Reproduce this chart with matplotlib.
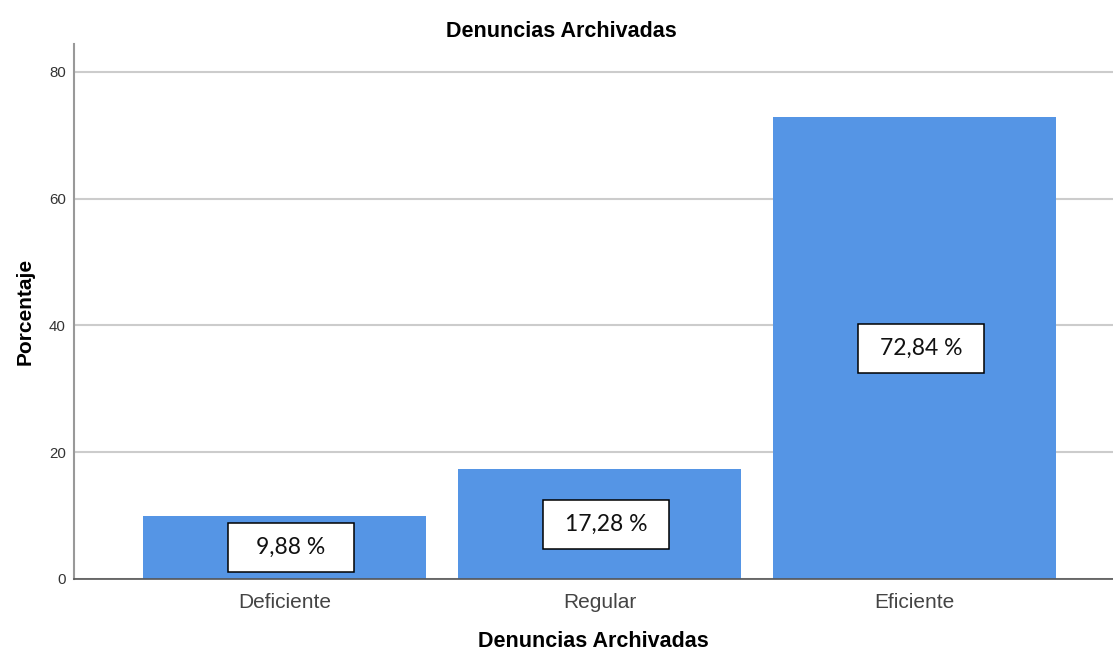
import matplotlib.pyplot as plt
from matplotlib.patches import Rectangle

categorias = ["Deficiente", "Regular", "Eficiente"]
porcentajes = [9.88, 17.28, 72.84]
etiquetas = ["9,88 %", "17,28 %", "72,84 %"]
yticks = [0, 20, 40, 60, 80]

plt.rcParams["font.family"] = ["Liberation Sans", "DejaVu Sans"]

fig = plt.figure(figsize=(11.13, 6.54), dpi=100)
ax = fig.add_axes([0.0665, 0.1147, 0.9335, 0.818])

x = list(range(len(categorias)))
ax.bar(x, porcentajes, width=0.9, color="#5595e5", zorder=2)

# cajas con el porcentaje de cada barra
for i, (v, txt) in enumerate(zip(porcentajes, etiquetas)):
    cx, cy = i + 0.02, v / 2
    ax.add_patch(Rectangle((cx - 0.2, cy - 3.86), 0.4, 7.72,
                           facecolor="white", edgecolor="black", lw=1.1, zorder=3))
    ax.text(cx, cy, txt, ha="center", va="center", fontsize=16.5,
            family=["Lato", "DejaVu Sans"], color="#111111", zorder=4)

ax.set_xlim(-0.668, 2.63)
ax.set_ylim(0, 84.4)
ax.set_xticks(x)
ax.set_xticklabels(categorias, fontsize=15, color="#444444")
ax.set_yticks(yticks)
ax.set_yticklabels([str(t) for t in yticks], fontsize=10.8, color="#333333")
ax.tick_params(length=0, axis="y", pad=6)
ax.tick_params(length=0, axis="x", pad=10)

ax.grid(axis="y", color="#cccccc", lw=1.5, zorder=0)
ax.set_axisbelow(True)
for s in ["top", "right"]:
    ax.spines[s].set_visible(False)
ax.spines["left"].set_color("#999999")
ax.spines["left"].set_linewidth(1.5)
ax.spines["bottom"].set_color("#555555")
ax.spines["bottom"].set_linewidth(1.2)

ax.set_ylabel("Porcentaje", fontsize=15, fontweight="bold", labelpad=10)
ax.set_xlabel("Denuncias Archivadas", fontsize=15.5, fontweight="bold", labelpad=14)
fig.suptitle("Denuncias Archivadas", x=0.504, y=0.968, fontsize=15.5, fontweight="bold")

fig.savefig("out.png", dpi=100)
